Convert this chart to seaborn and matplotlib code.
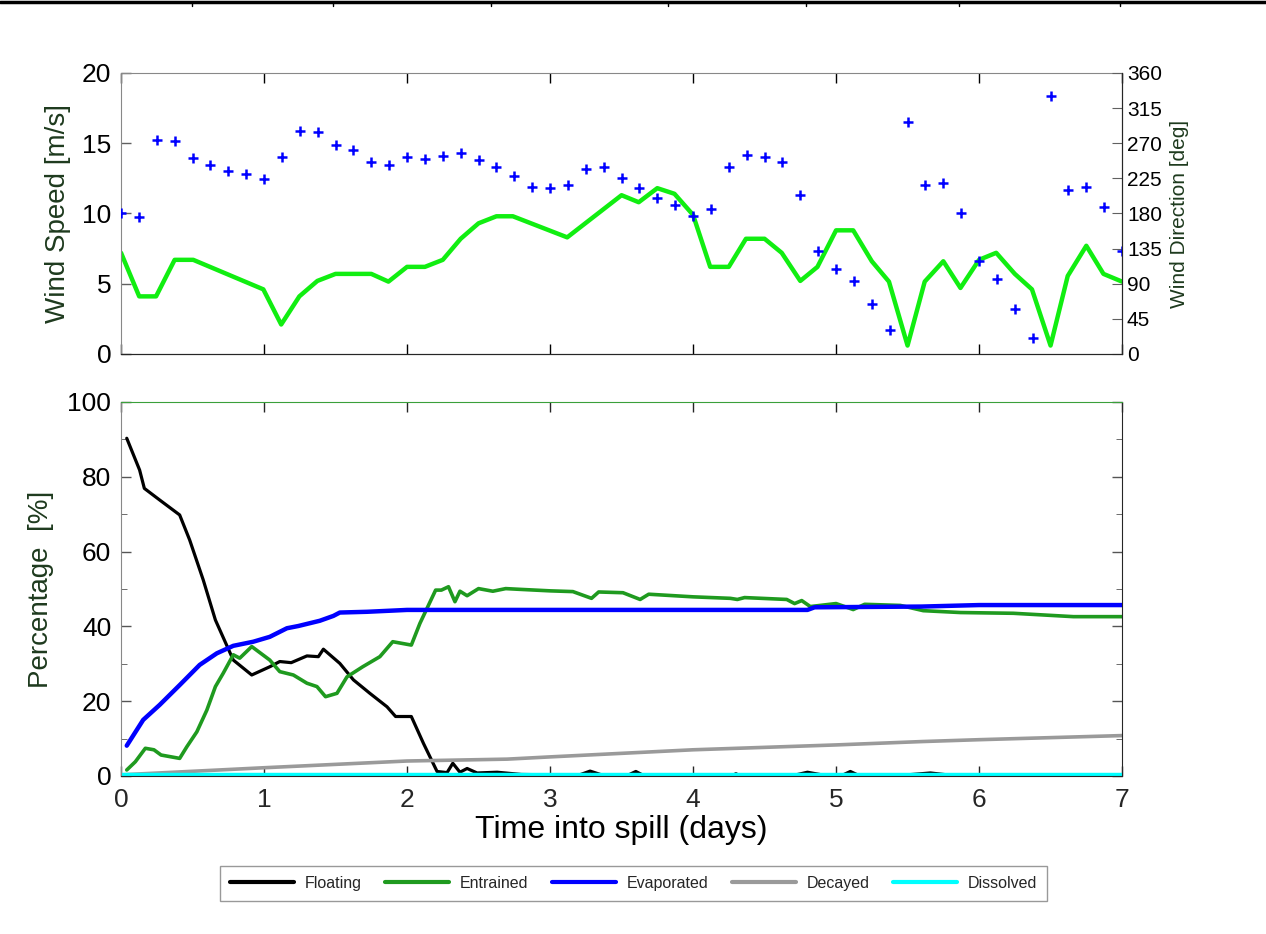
import numpy as np
import pandas as pd
import matplotlib
matplotlib.use('Agg')
import matplotlib.pyplot as plt
from matplotlib.lines import Line2D
from matplotlib.ticker import MultipleLocator
import seaborn as sns

# --- wind data (upper panel) ---
wind_time = [0, 0.127, 0.245, 0.375, 0.505, 0.995, 1.12, 1.247, 1.373, 1.5, 1.75, 1.87,
             2.0, 2.125, 2.25, 2.375, 2.5, 2.625, 2.74, 3.12, 3.5, 3.62, 3.75, 3.87, 4.0,
             4.12, 4.25, 4.37, 4.5, 4.62, 4.75, 4.87, 5.0, 5.12, 5.25, 5.37, 5.5, 5.62,
             5.75, 5.87, 6.0, 6.12, 6.25, 6.37, 6.5, 6.62, 6.75, 6.87, 7.0]
wind_speed = [7.2, 4.1, 4.1, 6.7, 6.7, 4.6, 2.1, 4.1, 5.2, 5.7, 5.7, 5.15,
              6.2, 6.2, 6.7, 8.2, 9.3, 9.8, 9.8, 8.3, 11.3, 10.8, 11.8, 11.4, 9.9,
              6.2, 6.2, 8.2, 8.2, 7.2, 5.2, 6.2, 8.8, 8.8, 6.6, 5.15, 0.6, 5.15,
              6.6, 4.7, 6.7, 7.2, 5.7, 4.6, 0.6, 5.55, 7.7, 5.7, 5.15]

dir_time = list(np.arange(0, 7.001, 0.125))
wind_dir = [180, 176, 274, 273, 251, 242, 235, 231, 224, 252, 285, 284, 268, 261,
            246, 242, 252, 250, 253, 257, 248, 239, 228, 214, 212, 217, 237, 240,
            226, 212, 200, 191, 177, 186, 240, 255, 252, 246, 204, 132, 109, 93,
            64, 31, 297, 216, 219, 180, 119, 96, 57, 21, 330, 210, 214, 188, 132]

# --- mass balance (lower panel) ---
float_time = [0.04, 0.13, 0.163, 0.27, 0.41, 0.48, 0.575, 0.66, 0.785, 0.914, 1.04, 1.11,
              1.19, 1.30, 1.38, 1.415, 1.53, 1.625, 1.74, 1.86, 1.92, 2.03, 2.115, 2.21,
              2.28, 2.32, 2.37, 2.42, 2.49, 2.63, 2.8, 3.2, 3.28, 3.36, 3.55, 3.6, 3.65,
              4.28, 4.3, 4.32, 4.72, 4.8, 4.9, 5.05, 5.1, 5.15, 5.5, 5.66, 5.8, 6.0, 7.0]
floating = [90.3, 81.8, 76.9, 73.8, 69.8, 63.1, 52.4, 41.7, 31.0, 27.0, 29.2, 30.6,
            30.3, 32.1, 31.9, 33.9, 30.1, 25.7, 22.1, 18.5, 15.9, 15.9, 8.7, 1.2,
            0.9, 3.4, 1.0, 2.0, 0.8, 1.0, 0.4, 0.2, 1.3, 0.3, 0.3, 1.2, 0.2,
            0.2, 0.6, 0.2, 0.3, 1.0, 0.3, 0.3, 1.2, 0.3, 0.3, 0.8, 0.2, 0.2, 0.2]

entr_time = [0.04, 0.1, 0.17, 0.23, 0.28, 0.41, 0.46, 0.53, 0.6, 0.66, 0.715, 0.785, 0.83,
             0.914, 1.04, 1.11, 1.205, 1.3, 1.37, 1.43, 1.51, 1.58, 1.69, 1.81, 1.9, 2.03,
             2.09, 2.2, 2.24, 2.29, 2.335, 2.37, 2.42, 2.5, 2.6, 2.69, 2.79, 3.0, 3.16,
             3.29, 3.34, 3.51, 3.63, 3.69, 4.0, 4.26, 4.31, 4.36, 4.655, 4.71, 4.76, 4.82,
             5.0, 5.12, 5.2, 5.45, 5.61, 5.87, 6.24, 6.66, 7.0]
entrained = [1.6, 3.8, 7.4, 7.0, 5.6, 4.7, 7.8, 11.8, 17.6, 23.9, 27.5, 32.4, 31.5,
             34.6, 31.0, 27.9, 27.0, 24.8, 23.9, 21.2, 22.1, 26.5, 29.2, 31.9, 35.9, 35.0,
             40.8, 49.7, 49.7, 50.6, 46.6, 49.4, 48.2, 50.1, 49.4, 50.1, 49.9, 49.5, 49.3,
             47.5, 49.2, 49.0, 47.2, 48.6, 47.9, 47.5, 47.2, 47.7, 47.2, 46.1, 46.9, 45.3,
             46.1, 44.5, 45.9, 45.6, 44.2, 43.7, 43.5, 42.6, 42.6]

evap_time = [0.04, 0.155, 0.27, 0.41, 0.55, 0.67, 0.785, 0.925, 1.04, 1.16, 1.24, 1.39,
             1.485, 1.53, 1.72, 2.0, 4.8, 4.85, 5.6, 6.0, 7.0]
evaporated = [8.1, 15.0, 19.0, 24.3, 29.7, 32.8, 34.8, 35.9, 37.2, 39.5, 40.1, 41.5,
              42.8, 43.7, 43.9, 44.4, 44.4, 45.1, 45.3, 45.7, 45.7]

decay_time = [0, 1, 2, 2.7, 3, 4, 5, 5.6, 6, 7]
decayed = [0.3, 2.2, 4.0, 4.5, 5.1, 7.0, 8.3, 9.2, 9.7, 10.8]

diss_time = [0, 7]
dissolved = [0.2, 0.2]

sns.set_style('ticks')
plt.rcParams['font.family'] = ['Liberation Sans', 'DejaVu Sans']
plt.rcParams['xtick.direction'] = 'in'
plt.rcParams['ytick.direction'] = 'in'

label_col = '#1e3a1e'
fig = plt.figure(figsize=(12.66, 9.34), dpi=100)

# ---------------- upper panel ----------------
ax1 = fig.add_axes([0.0956, 0.621, 0.7907, 0.3009])
sns.lineplot(x=wind_time, y=wind_speed, ax=ax1, color='#11ee11', lw=3.2,
             sort=False, estimator=None)
ax1.set_xlim(0, 7)
ax1.set_ylim(0, 20)
ax1.set_yticks([0, 5, 10, 15, 20])
ax1.set_xticks(range(8))
ax1.set_xticklabels([])
ax1.tick_params(axis='both', labelsize=19, length=7, width=1, top=True, colors='black')
ax1.tick_params(axis='y', colors='#606060', labelcolor='black', pad=7)
ax1.set_ylabel('Wind Speed [m/s]', fontsize=20, color=label_col, labelpad=8)
ax1.spines['left'].set_color('#888888')
ax1.spines['top'].set_color('#888888')

ax1r = ax1.twinx()
sns.scatterplot(x=dir_time, y=wind_dir, ax=ax1r, marker='+', color='blue', s=55,
                linewidth=1.8)
ax1r.set_ylim(0, 360)
ax1r.set_yticks(range(0, 361, 45))
ax1r.tick_params(axis='y', labelsize=15, length=7, direction='in', colors='#606060',
                 labelcolor='black')
ax1r.set_ylabel('Wind Direction [deg]', fontsize=15, color=label_col, labelpad=6)
for s in ['left', 'top']:
    ax1r.spines[s].set_visible(False)

# ---------------- lower panel ----------------
ax2 = fig.add_axes([0.0956, 0.1692, 0.7907, 0.4004])
series = [
    (float_time, floating, 'black', 'Floating'),
    (entr_time, entrained, '#1f9a1f', 'Entrained'),
    (evap_time, evaporated, 'blue', 'Evaporated'),
    (decay_time, decayed, '#9a9a9a', 'Decayed'),
    (diss_time, dissolved, '#00ffff', 'Dissolved'),
]
widths = {'Floating': 2.3, 'Entrained': 2.6, 'Evaporated': 3.2, 'Decayed': 2.6,
          'Dissolved': 3.2}
for t, v, c, name in series:
    sns.lineplot(x=t, y=v, ax=ax2, color=c, lw=widths[name], label=name, sort=False,
                 estimator=None, legend=False)
ax2.set_xlim(0, 7)
ax2.set_ylim(0, 100)
ax2.set_xticks(range(8))
ax2.set_yticks(range(0, 101, 20))
ax2.yaxis.set_minor_locator(MultipleLocator(10))
ax2.tick_params(axis='both', which='major', labelsize=19, length=7, width=1,
                top=True, right=True)
ax2.tick_params(axis='x', pad=9)
ax2.tick_params(axis='y', which='minor', length=4, right=True)
ax2.tick_params(axis='y', which='both', colors='#555555', labelcolor='black', pad=7)
ax2.set_xlabel('Time into spill (days)', fontsize=23, color='black', labelpad=2)
ax2.set_ylabel('Percentage  [%]', fontsize=20, color=label_col, labelpad=10)
ax2.spines['top'].set_color('#3aa03a')
ax2.spines['left'].set_color('#888888')

handles = [Line2D([], [], color=c, lw=3) for _, _, c, _ in series]
leg = fig.legend(handles, [s[3] for s in series], loc='center', ncol=5,
                 bbox_to_anchor=(0.5004, 0.054), fontsize=11.5, frameon=True,
                 fancybox=False, edgecolor='#808080', handlelength=4.0,
                 columnspacing=1.45, handletextpad=0.7, borderpad=0.6,
                 borderaxespad=0)
leg.get_frame().set_linewidth(1.0)

# border strip across the very top of the page
fig.add_artist(Line2D([0, 1], [0.9975, 0.9975], color='black', lw=2.5,
                      transform=fig.transFigure))
for px in [192, 333, 491, 668, 806, 959, 1120]:
    fig.add_artist(Line2D([px / 1266, px / 1266], [0.9975, 0.994], color='black', lw=1,
                          transform=fig.transFigure))

fig.savefig('out.png', dpi=100)
